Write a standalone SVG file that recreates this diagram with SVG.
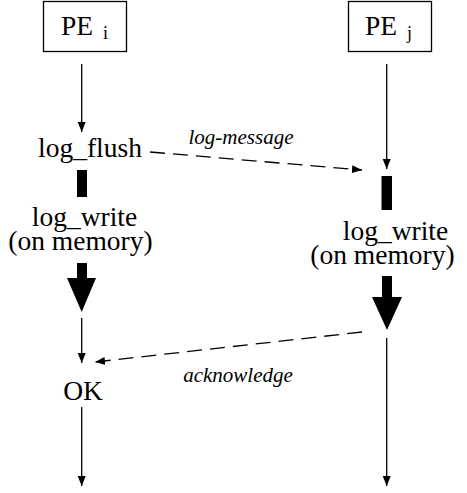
<svg xmlns="http://www.w3.org/2000/svg" width="467" height="493" viewBox="0 0 467 493">
<style>
text{font-family:"Liberation Serif","Times New Roman",serif;fill:#000}
.t{font-size:27.5px}
.s{font-size:18px}
.i{font-size:21px;font-style:italic}
.box{fill:#fff;stroke:#000;stroke-width:1.3}
.ln{stroke:#000;stroke-width:1.3;fill:none}
.dash{stroke:#000;stroke-width:1.3;fill:none;stroke-dasharray:15 8}
.blk{fill:#000}
</style>
<defs>
<marker id="ah" markerUnits="userSpaceOnUse" markerWidth="11" markerHeight="9" refX="10" refY="4" orient="auto">
<path d="M0,0 L10,4 L0,8 z" fill="#000"/>
</marker>
</defs>
<rect width="467" height="493" fill="#fff"/>
<g id="PE_i">
<rect class="box" x="43.5" y="1.5" width="83" height="50"/>
<text class="t" x="61" y="34.5">PE</text><text class="s" x="103" y="39">i</text>
</g>
<g id="PE_j">
<rect class="box" x="348.5" y="1.5" width="83" height="50"/>
<text class="t" x="365" y="34.5">PE</text><text class="s" x="407" y="39">j</text>
</g>
<g id="log_flush">
<text class="t" x="90" y="157" text-anchor="middle">log_flush</text>
</g>
<g id="log_write_i">
<text class="t" x="84.5" y="225.5" text-anchor="middle">log_write</text>
<text class="t" x="80.5" y="250" text-anchor="middle">(on memory)</text>
</g>
<g id="log_write_j">
<text class="t" x="395.5" y="240" text-anchor="middle">log_write</text>
<text class="t" x="382.5" y="264" text-anchor="middle">(on memory)</text>
</g>
<g id="OK">
<text class="t" x="83" y="400" text-anchor="middle">OK</text>
</g>
<g id="labels">
<text class="i" x="241" y="144" text-anchor="middle">log-message</text>
<text class="i" x="238" y="382" text-anchor="middle">acknowledge</text>
</g>
<g id="connectors">
<line class="ln" x1="81.7" y1="64" x2="81.7" y2="132" marker-end="url(#ah)"/>
<line class="ln" x1="386.7" y1="64" x2="386.7" y2="169" marker-end="url(#ah)"/>
<line class="dash" x1="150" y1="152" x2="362" y2="170" marker-end="url(#ah)"/>
<rect class="blk" x="77" y="170" width="10" height="27"/>
<rect class="blk" x="381.5" y="176" width="10.5" height="34"/>
<polygon class="blk" points="77,263 87,263 87,278 96,278 81.7,312 67,278 77,278"/>
<polygon class="blk" points="382,276 392,276 392,297 402,297 387,330 372,297 382,297"/>
<line class="ln" x1="81.7" y1="318" x2="81.7" y2="363" marker-end="url(#ah)"/>
<line class="dash" x1="362" y1="332" x2="95" y2="362" marker-end="url(#ah)"/>
<line class="ln" x1="386.7" y1="338" x2="386.7" y2="486" marker-end="url(#ah)"/>
<line class="ln" x1="81.7" y1="407" x2="81.7" y2="486" marker-end="url(#ah)"/>
</g>
</svg>
